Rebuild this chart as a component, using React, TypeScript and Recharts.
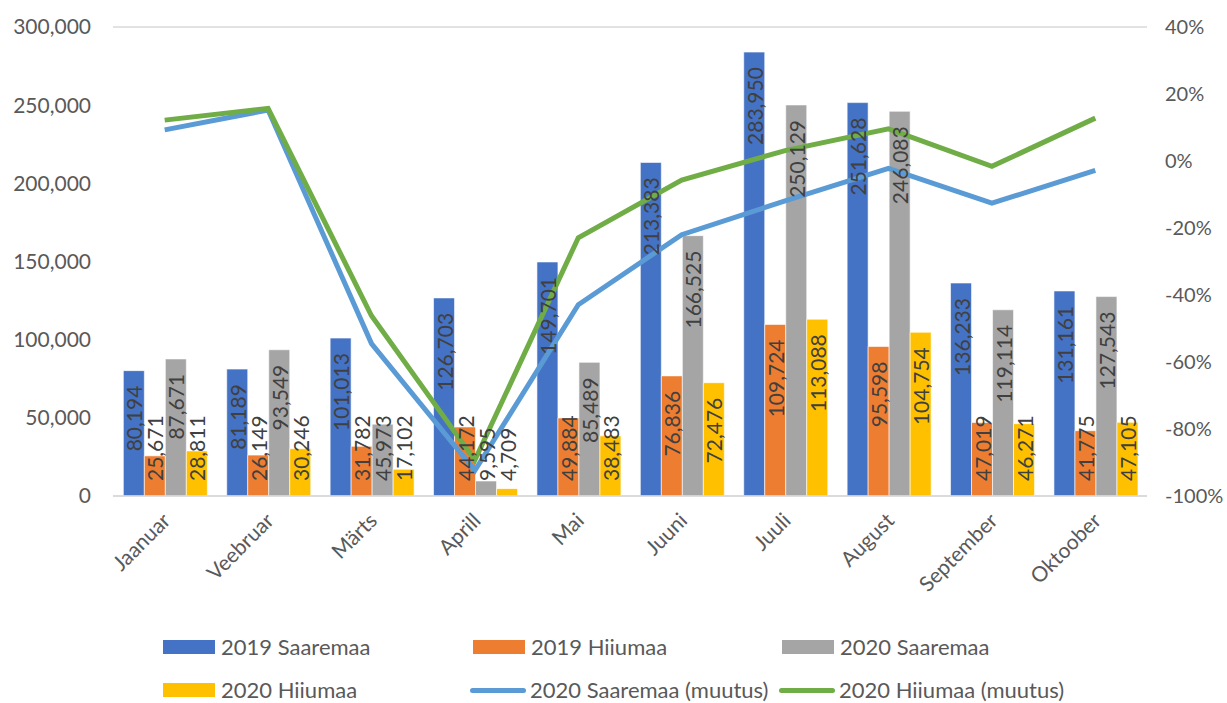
import { Bar, CartesianGrid, ComposedChart, LabelList, Line, XAxis, YAxis } from "recharts";

const months = ["Jaanuar", "Veebruar", "Märts", "Aprill", "Mai", "Juuni", "Juuli", "August", "September", "Oktoober"];
const saare2019 = [80194, 81189, 101013, 126703, 149701, 213383, 283950, 251628, 136233, 131161];
const hiiu2019 = [25671, 26149, 31782, 44172, 49884, 76836, 109724, 95598, 47019, 41775];
const saare2020 = [87671, 93549, 45973, 9595, 85489, 166525, 250129, 246083, 119114, 127543];
const hiiu2020 = [28811, 30246, 17102, 4709, 38483, 72476, 113088, 104754, 46271, 47105];
// change in percent
const saareChange = [9.3, 15.2, -54.5, -92.4, -42.9, -22.0, -11.9, -2.2, -12.6, -2.8];
const hiiuChange = [12.2, 15.7, -46.2, -89.3, -22.9, -5.7, 3.1, 9.6, -1.6, 12.8];

const leftTicks = [0, 50000, 100000, 150000, 200000, 250000, 300000];
const rightTicks = [-100, -80, -60, -40, -20, 0, 20, 40];

const C = {
  s19: "#4472C4",
  h19: "#ED7D31",
  s20: "#A5A5A5",
  h20: "#FFC000",
  sLine: "#5B9BD5",
  hLine: "#70AD47",
  grid: "#D9D9D9",
  axisText: "#595959",
  label: "#404040",
};

const FONT = "Lato, 'Open Sans', sans-serif";
const FS = 21;

const data = months.map((m, i) => ({
  month: m,
  s19: saare2019[i],
  h19: hiiu2019[i],
  s20: saare2020[i],
  h20: hiiu2020[i],
  sChg: saareChange[i],
  hChg: hiiuChange[i],
}));

const fmt = (n: number) => new Intl.NumberFormat("en-US").format(n);

const textLen = (s: string) => {
  let w = 0;
  for (const ch of s) w += ch === "," ? 0.24 : 0.58;
  return w * FS;
};

const PAD = 15;

function BarLabel(props: any) {
  const { x, y, width, height, value } = props;
  const cx = Number(x) + Number(width) / 2;
  const top = Number(y);
  const base = top + Number(height);
  const s = fmt(Number(value));
  const len = textLen(s);
  let ay: number;
  let anchor: "start" | "end";
  if (top + PAD + len <= base - PAD) {
    ay = top + PAD;
    anchor = "end";
  } else {
    ay = base - PAD;
    anchor = "start";
  }
  return (
    <text
      x={cx}
      y={ay}
      transform={`rotate(-90 ${cx} ${ay})`}
      textAnchor={anchor}
      dominantBaseline="central"
      style={{ fontFamily: FONT, fontSize: FS, fill: C.label }}
    >
      {s}
    </text>
  );
}

function MonthTick({ x, y, payload }: any) {
  const tx = Number(x) + 7;
  const ty = Number(y) + 18;
  return (
    <text
      x={tx}
      y={ty}
      transform={`rotate(-45 ${tx} ${ty})`}
      textAnchor="end"
      style={{ fontFamily: FONT, fontSize: FS, fill: C.axisText }}
    >
      {payload.value}
    </text>
  );
}

const legendItems = [
  { label: "2019 Saaremaa", color: C.s19, kind: "bar", left: 163, top: 647 },
  { label: "2019 Hiiumaa", color: C.h19, kind: "bar", left: 473, top: 647 },
  { label: "2020 Saaremaa", color: C.s20, kind: "bar", left: 782, top: 647 },
  { label: "2020 Hiiumaa", color: C.h20, kind: "bar", left: 163, top: 690 },
  { label: "2020 Saaremaa (muutus)", color: C.sLine, kind: "line", left: 470, top: 690 },
  { label: "2020 Hiiumaa (muutus)", color: C.hLine, kind: "line", left: 779, top: 690 },
];

export default function App() {
  return (
    <div style={{ position: "fixed", left: 0, top: 0, width: 1227, height: 703, background: "#fff" }}>
      <ComposedChart
        width={1227}
        height={703}
        data={data}
        barCategoryGap="10%"
        barGap={0}
        margin={{ top: 27, right: 0, left: 0, bottom: 127 }}
      >
        <CartesianGrid vertical={false} stroke={C.grid} strokeWidth={1.5} />
        <XAxis
          dataKey="month"
          height={80}
          tickLine={false}
          axisLine={{ stroke: C.grid, strokeWidth: 1.5 }}
          tick={<MonthTick />}
          interval={0}
        />
        <YAxis
          yAxisId="left"
          width={113}
          domain={[0, 300000]}
          ticks={leftTicks}
          tickFormatter={fmt}
          tickLine={false}
          axisLine={false}
          tickMargin={16}
          tick={{ fontFamily: FONT, fontSize: FS, fill: C.axisText }}
        />
        <YAxis
          yAxisId="right"
          orientation="right"
          width={80}
          domain={[-100, 40]}
          ticks={rightTicks}
          tickFormatter={(v: number) => `${v}%`}
          tickLine={false}
          axisLine={false}
          tickMargin={12}
          tick={{ fontFamily: FONT, fontSize: 20, fill: C.axisText, textAnchor: "start" }}
        />
        <Bar yAxisId="left" dataKey="s19" fill={C.s19} stroke="#fff" strokeWidth={0.6} isAnimationActive={false}>
          <LabelList dataKey="s19" content={<BarLabel />} />
        </Bar>
        <Bar yAxisId="left" dataKey="h19" fill={C.h19} stroke="#fff" strokeWidth={0.6} isAnimationActive={false}>
          <LabelList dataKey="h19" content={<BarLabel />} />
        </Bar>
        <Bar yAxisId="left" dataKey="s20" fill={C.s20} stroke="#fff" strokeWidth={0.6} isAnimationActive={false}>
          <LabelList dataKey="s20" content={<BarLabel />} />
        </Bar>
        <Bar yAxisId="left" dataKey="h20" fill={C.h20} stroke="#fff" strokeWidth={0.6} isAnimationActive={false}>
          <LabelList dataKey="h20" content={<BarLabel />} />
        </Bar>
        <Line
          yAxisId="right"
          dataKey="sChg"
          type="linear"
          stroke={C.sLine}
          strokeWidth={5}
          dot={false}
          activeDot={false}
          isAnimationActive={false}
        />
        <Line
          yAxisId="right"
          dataKey="hChg"
          type="linear"
          stroke={C.hLine}
          strokeWidth={5}
          dot={false}
          activeDot={false}
          isAnimationActive={false}
        />
      </ComposedChart>
      {legendItems.map((it) => (
        <div
          key={it.label}
          style={{
            position: "absolute",
            left: it.left,
            top: it.top - 12,
            height: 24,
            lineHeight: "24px",
            display: "flex",
            alignItems: "center",
            fontFamily: FONT,
            fontSize: 22,
            color: C.axisText,
            whiteSpace: "nowrap",
          }}
        >
          {it.kind === "bar" ? (
            <span style={{ display: "inline-block", width: 52, height: 14, background: it.color, marginRight: 6 }} />
          ) : (
            <span
              style={{ display: "inline-block", width: 56, height: 5, borderRadius: 3, background: it.color, marginRight: 4 }}
            />
          )}
          {it.label}
        </div>
      ))}
    </div>
  );
}
